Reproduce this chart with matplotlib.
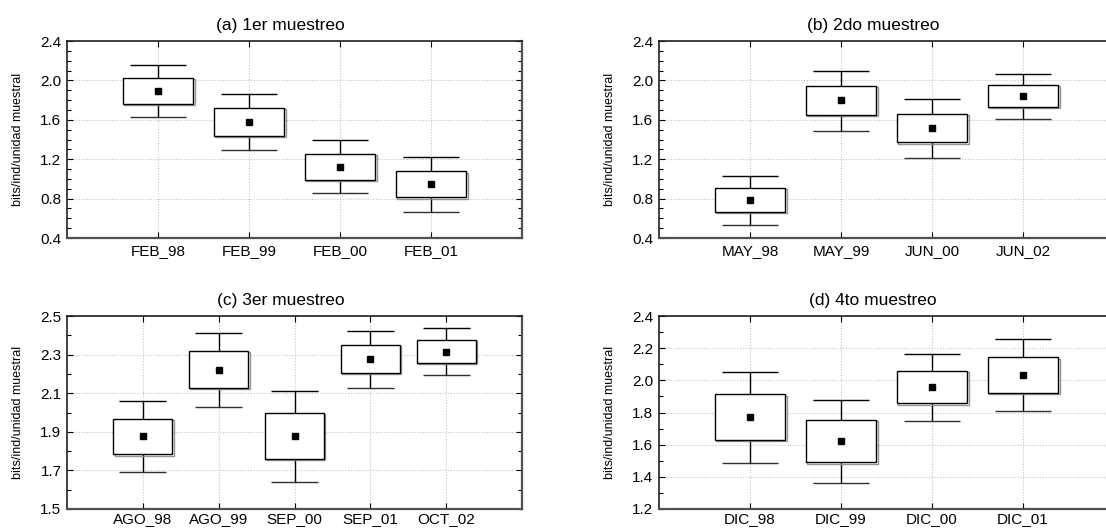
import matplotlib
matplotlib.use('Agg')
import matplotlib.pyplot as plt
import matplotlib.patheffects as pe
from matplotlib.ticker import MultipleLocator, FormatStrFormatter

plt.rcParams['font.family'] = ['Liberation Sans', 'DejaVu Sans']

# (a) 1er muestreo
a_labels = ['FEB_98', 'FEB_99', 'FEB_00', 'FEB_01']
a_mean = [1.895, 1.580, 1.122, 0.946]
a_box_lo = [1.763, 1.437, 0.993, 0.814]
a_box_hi = [2.027, 1.722, 1.254, 1.078]
a_wsk_lo = [1.630, 1.292, 0.854, 0.668]
a_wsk_hi = [2.156, 1.861, 1.390, 1.220]
a_yticks = [0.4, 0.8, 1.2, 1.6, 2.0, 2.4]

# (b) 2do muestreo
b_labels = ['MAY_98', 'MAY_99', 'JUN_00', 'JUN_02']
b_mean = [0.786, 1.797, 1.512, 1.841]
b_box_lo = [0.664, 1.651, 1.373, 1.732]
b_box_hi = [0.912, 1.946, 1.661, 1.953]
b_wsk_lo = [0.532, 1.488, 1.214, 1.610]
b_wsk_hi = [1.031, 2.098, 1.814, 2.068]
b_yticks = [0.4, 0.8, 1.2, 1.6, 2.0, 2.4]

# (c) 3er muestreo
c_labels = ['AGO_98', 'AGO_99', 'SEP_00', 'SEP_01', 'OCT_02']
c_mean = [1.876, 2.222, 1.876, 2.276, 2.314]
c_box_lo = [1.783, 2.127, 1.759, 2.205, 2.256]
c_box_hi = [1.968, 2.319, 1.997, 2.351, 2.376]
c_wsk_lo = [1.690, 2.027, 1.639, 2.129, 2.193]
c_wsk_hi = [2.061, 2.412, 2.112, 2.424, 2.437]
c_yticks = [1.5, 1.7, 1.9, 2.1, 2.3, 2.5]

# (d) 4to muestreo
d_labels = ['DIC_98', 'DIC_99', 'DIC_00', 'DIC_01']
d_mean = [1.772, 1.621, 1.957, 2.032]
d_box_lo = [1.631, 1.491, 1.857, 1.922]
d_box_hi = [1.912, 1.753, 2.060, 2.144]
d_wsk_lo = [1.489, 1.359, 1.749, 1.810]
d_wsk_hi = [2.052, 1.879, 2.162, 2.254]
d_yticks = [1.2, 1.4, 1.6, 1.8, 2.0, 2.2, 2.4]

titles = ['(a) 1er muestreo', '(b) 2do muestreo', '(c) 3er muestreo', '(d) 4to muestreo']
ylabel = 'bits/ind/unidad muestral'

W, H = 1106, 530
fig = plt.figure(figsize=(W / 100, H / 100), dpi=100)


def px_axes(left, top, right, bottom):
    return fig.add_axes([left / W, 1 - bottom / H, (right - left) / W, (bottom - top) / H])


def draw_panel(ax, title, labels, mean, blo, bhi, wlo, whi, yticks, xpad):
    n = len(labels)
    x = list(range(1, n + 1))
    shadow = [pe.SimpleLineShadow(offset=(1, -1), shadow_color='#8a8a8a', alpha=0.9), pe.Normal()]
    ax.bar(x, [h - l for h, l in zip(bhi, blo)], bottom=blo, width=0.78,
           facecolor='white', edgecolor='black', linewidth=1.0, zorder=3,
           path_effects=shadow)
    ax.vlines(x, bhi, whi, color='black', lw=1.0, zorder=2)
    ax.vlines(x, wlo, blo, color='black', lw=1.0, zorder=2)
    ax.hlines(whi, [i - 0.31 for i in x], [i + 0.31 for i in x], color='black', lw=1.0, zorder=2)
    ax.hlines(wlo, [i - 0.31 for i in x], [i + 0.31 for i in x], color='#303030', lw=1.0, zorder=2)
    ax.plot(x, mean, 's', color='black', ms=4.0, zorder=4)

    ax.set_xlim(0, n + 1)
    ax.set_ylim(yticks[0], yticks[-1])
    ax.set_xticks(x)
    ax.set_xticklabels(labels)
    ax.set_yticks(yticks)
    ax.yaxis.set_minor_locator(MultipleLocator(0.1))
    ax.yaxis.set_major_formatter(FormatStrFormatter('%.1f'))
    ax.tick_params(axis='both', which='both', direction='in', top=True, right=True,
                   labelsize=11, color='black')
    ax.tick_params(axis='both', which='major', length=4, width=0.8)
    ax.tick_params(axis='y', which='minor', length=3, width=0.8)
    ax.tick_params(axis='y', which='major', pad=4)
    ax.tick_params(axis='x', which='major', pad=xpad)
    ax.grid(True, which='major', color='#c4c4c4', lw=0.8, ls=(0, (1, 1.5)), zorder=0)
    for side in ['top', 'left']:
        ax.spines[side].set_color('#202020')
        ax.spines[side].set_linewidth(1.2)
    for side in ['bottom', 'right']:
        ax.spines[side].set_color('#505050')
        ax.spines[side].set_linewidth(1.6)
    ax.set_title(title, x=0.47, fontsize=12.5, pad=8)
    ax.set_ylabel(ylabel, fontsize=9)
    ax.yaxis.set_label_coords(-0.095, 0.5)


ax_a = px_axes(67, 41, 522, 238)
ax_b = px_axes(659, 41, 1114, 238)
ax_c = px_axes(67, 316, 522, 509)
ax_d = px_axes(659, 316, 1114, 509)

draw_panel(ax_a, titles[0], a_labels, a_mean, a_box_lo, a_box_hi, a_wsk_lo, a_wsk_hi, a_yticks, 4)
draw_panel(ax_b, titles[1], b_labels, b_mean, b_box_lo, b_box_hi, b_wsk_lo, b_wsk_hi, b_yticks, 4)
draw_panel(ax_c, titles[2], c_labels, c_mean, c_box_lo, c_box_hi, c_wsk_lo, c_wsk_hi, c_yticks, 2.2)
draw_panel(ax_d, titles[3], d_labels, d_mean, d_box_lo, d_box_hi, d_wsk_lo, d_wsk_hi, d_yticks, 2.2)

fig.savefig('out.png', dpi=100)
